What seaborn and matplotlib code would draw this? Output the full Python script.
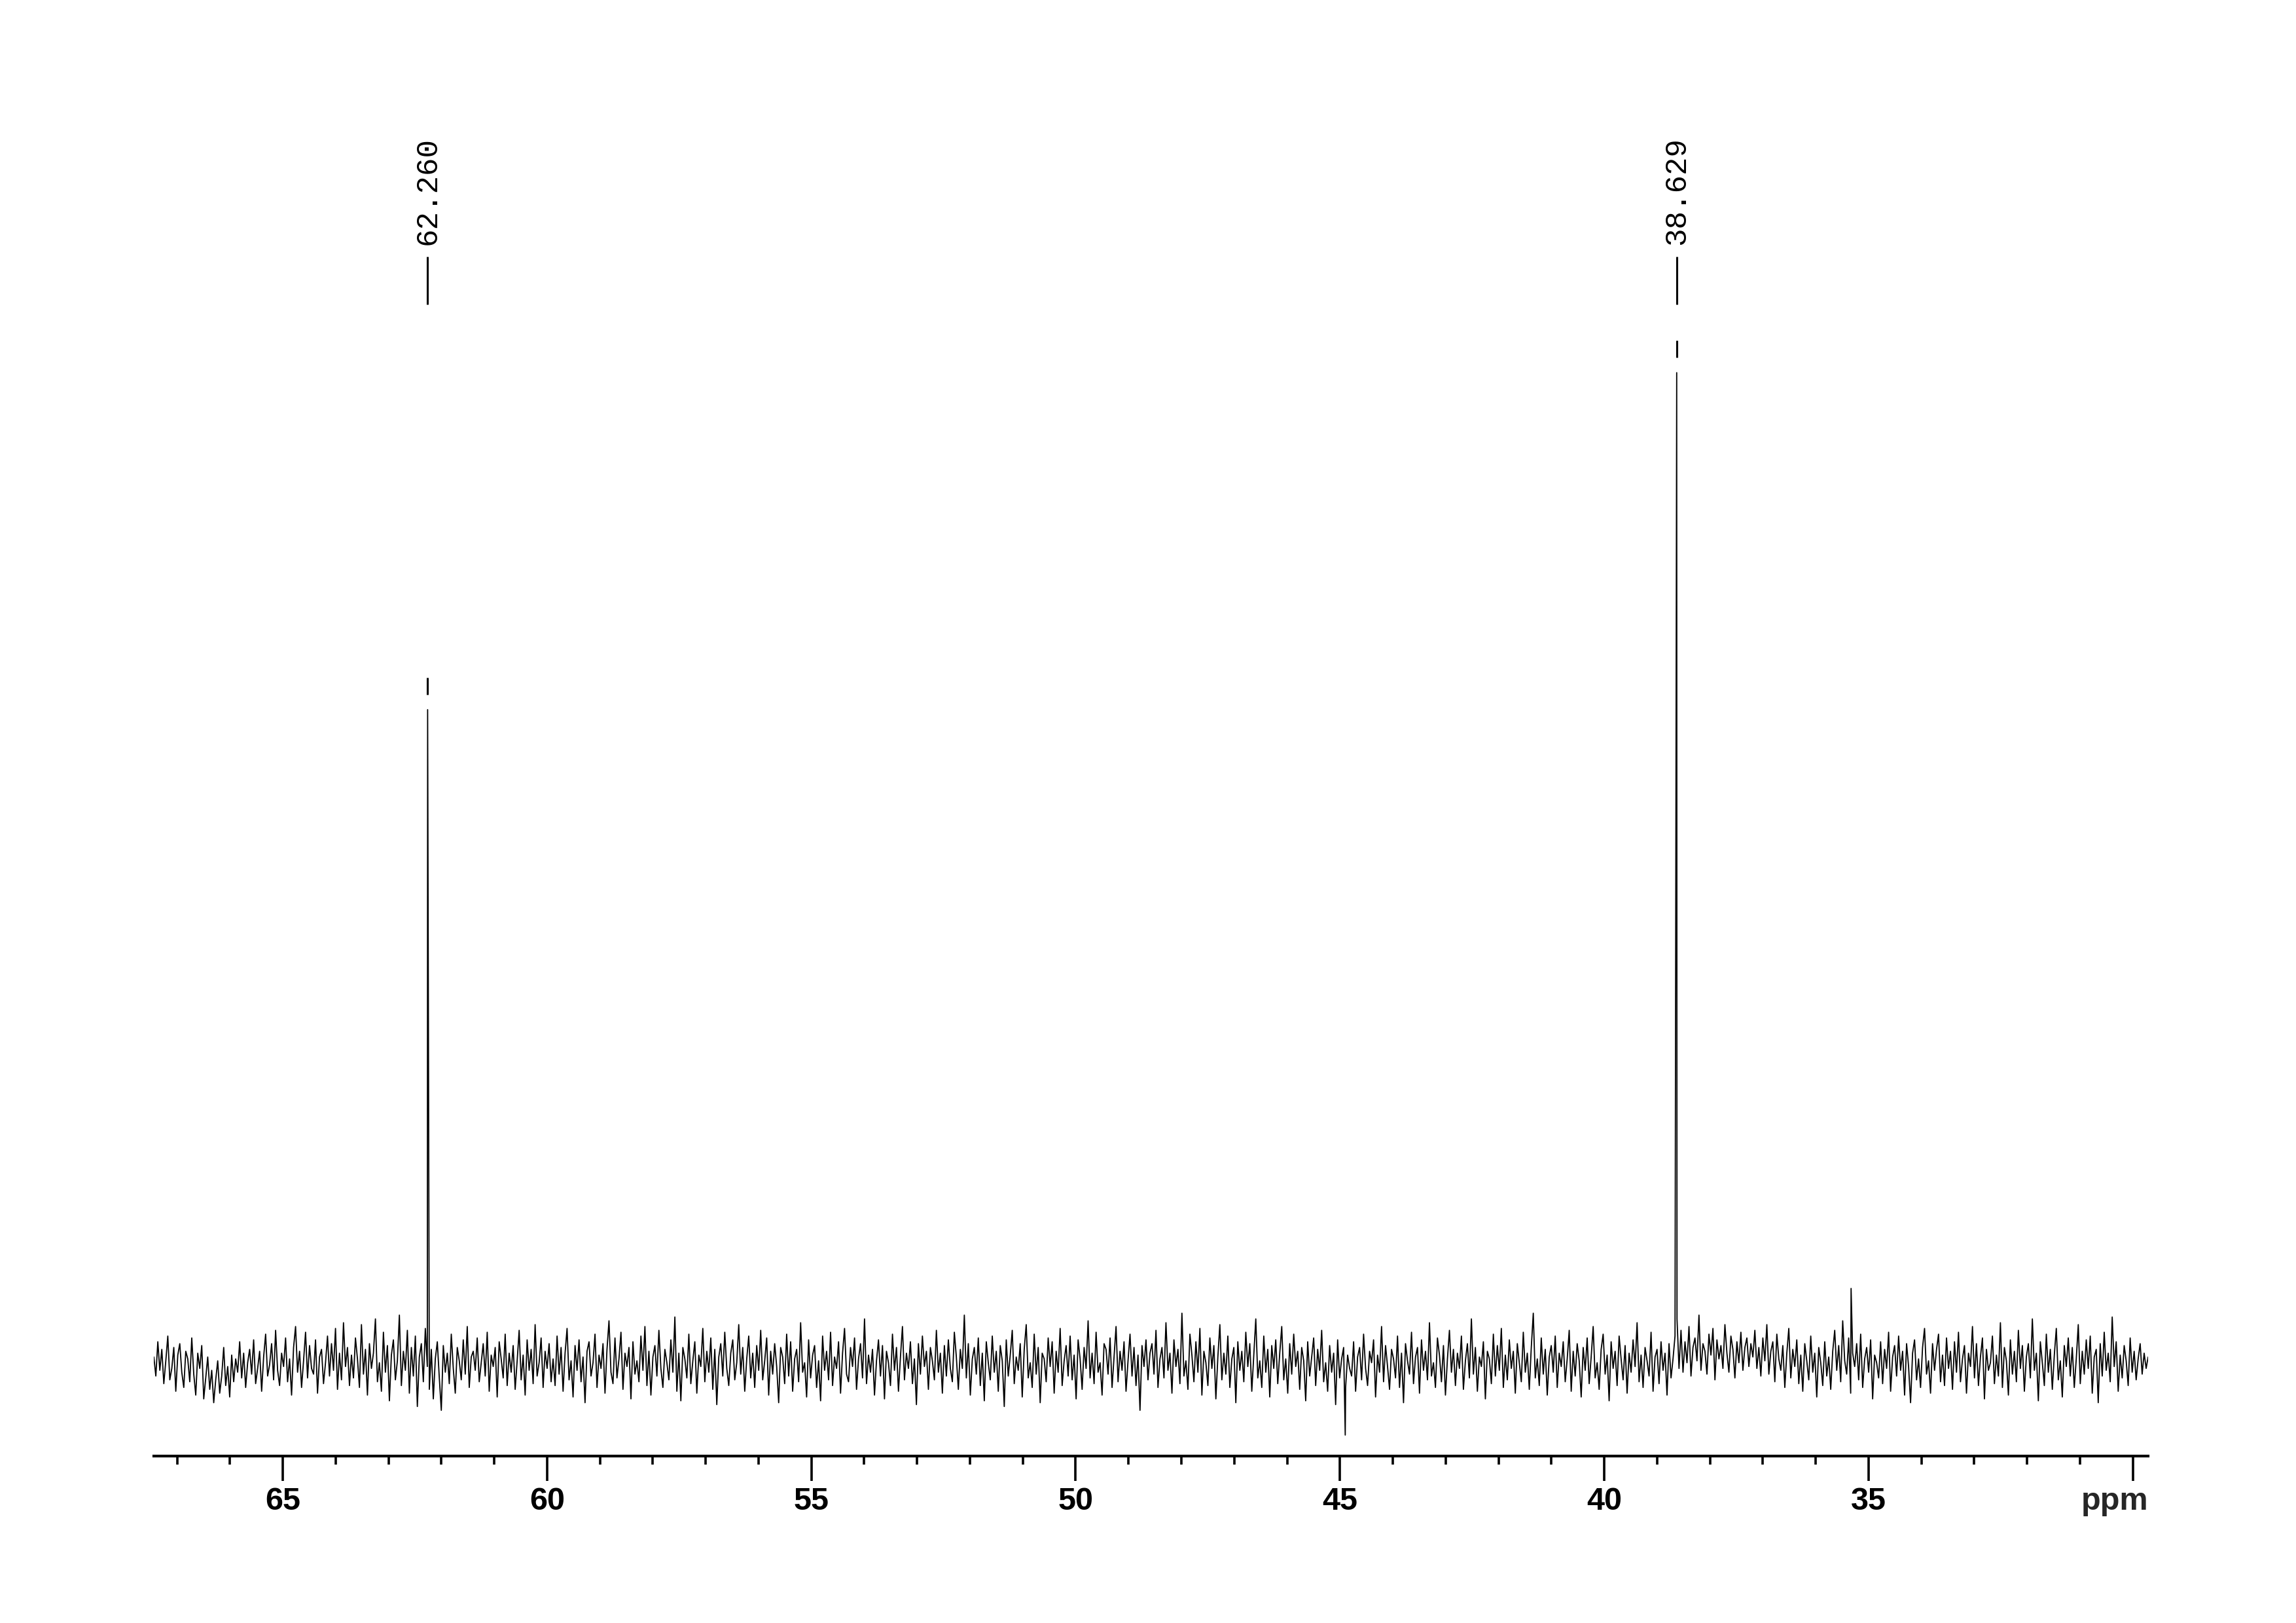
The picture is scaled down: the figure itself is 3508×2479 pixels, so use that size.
import numpy as np
import pandas as pd
import matplotlib
matplotlib.use("Agg")
import matplotlib.pyplot as plt
from matplotlib.ticker import MultipleLocator
import seaborn as sns

# spectrum window (ppm, high field on the right)
ppm_left = 67.44
ppm_right = 29.71

# picked peaks (height in arbitrary units, baseline = 0)
peak_ppm = [62.260, 38.629]
peak_height = [344, 521]
peak_labels = ["62.260", "38.629"]

# odd single spikes in the baseline
spike_ppm = [44.90, 35.33]
spike_height = [-37, 40]

major_ticks = [65, 60, 55, 50, 45, 40, 35, 30]
tick_labels = ["65", "60", "55", "50", "45", "40", "35", ""]

noise_a = [4, -6, 12, -3, 8, -10, 2, 15, -8, -2, 9, -14, 5, 11, -4, -12, 7, 3, -9, 14,
           -5, -16, 6, -2, 10, -18, -7, 4, -13, -3, -20, -8, 2, -15, -6, 9, -11, -1, -17, 5,
           -9, 3, -4, 12, -7, 6, -12, 1, 8, -5, 13, -10, -2, 7, -14, 4, 16, -6, 0, 11,
           -8, 18, -3, -11, 6, -1, 14, -9, 3, -16, 9, 20, -4, 7, -12, 2, 17, -7, 10, -2,
           -5, 13, -15, 4, 8, -10, 1, 15, -6, 11, -3, 19, -13, 6, -8, 22, -1, 9, -11, 5]
noise_b = [-7, 14, 3, -12, 21, -5, 8, -16, 11, -2, 6, 24, -9, 1, -14, 17, -4, 10, -19, 5,
           13, -8, 2, 26, -11, 7, -3, 18, -15, 9, -6, 15, -22, 4, 11, -9, 19, -1, -13, 8,
           -18, 3, 12, -7, -24, 10, -4, 6, -10, 16, -2, -15, 9, 2, -8, 13, -5, 20, -12, 4,
           7, -3, 14, -9, 1, 11, -6, 17, -14, 5, -1, 9, -17, 12, 3, -7, 16, -11, 6, -4,
           10, -13, 2, 18, -8, 5, -16, 13, -3, 8, -10, 21, -6, 1, 14, -12, 7, -2, 11, -9]
noise_c = [3, -11, 15, -5, 9, -14, 6, 19, -8, 2, -17, 10, -3, 13, -9, 4, -20, 7, 12, -6,
           1, 16, -12, 5, -2, 11, -15, 8, 23, -4, -10, 14, -7, 3, 17, -13, 6, -1, 9, -18,
           12, -5, 2, -9, 15, -3, 20, -11, 7, -16, 4, 10, -6, 18, -2, -12, 8, 1, -8, 13,
           -4, 25, -14, 6, -19, 9, 3, -7, 16, -10, 2, 12, -15, 5, -1, 19, -9, 7, -4, 14,
           -13, 8, -21, 4, 11, -6, 17, -2, -11, 6, 13, -8, 1, 21, -5, 9, -14, 3, 15, -7]
noise_d = [6, -12, 10, -3, 18, -8, 2, 14, -16, 7, -5, 11, -1, -20, 9, 4, -10, 16, -6, 12,
           -14, 3, 8, -9, 22, -4, 1, -17, 13, -7, 5, 10, -12, 2, -19, 15, -3, 7, -8, 17,
           -11, 4, -2, 12, -15, 6, 19, -5, -9, 9, -1, 14, -13, 3, 11, -7, 24, -10, 5, -4,
           8, -16, 2, 13, -6, 10, -18, 7, 1, -11, 16, -3, 9, -14, 4, 20, -8, 6, -2, 12,
           -10, 3, -21, 11, -5, 15, -1, 7, -13, 9, 2, -8, 18, -4, 6, -15, 10, -6, 13, -2]
noise_e = [-9, 17, 4, -13, 8, -2, 26, -7, 11, -16, 3, 9, -5, 14, -11, 6, -19, 12, 1, -8,
           15, -4, 7, -14, 10, 2, -22, 13, -6, 5, 18, -10, 4, -3, 11, -17, 8, 21, -7, 1,
           -12, 16, -5, 9, -20, 6, 3, -9, 14, -1, 12, -15, 7, -4, 19, -11, 2, 10, -6, 15,
           -8, 5, -18, 13, 3, -13, 9, -2, 23, -7, 6, -10, 17, -4, 1, -16, 11, 8, -5, 14,
           -12, 4, 20, -9, 7, -3, 12, -14, 2, 16, -6, 9, -11, 5, -24, 10, -1, 13, -8, 6]
noise_f = [11, -5, 18, -12, 3, 9, -7, 22, -3, 6, -15, 13, -1, 8, -10, 27, -6, 2, -13, 16,
           5, -9, 12, -4, 19, -16, 7, 1, -11, 14, -2, 10, -18, 4, 21, -8, 6, -5, 15, -12,
           3, 9, -20, 12, -3, 7, -9, 17, -1, 11, -14, 5, 24, -7, 2, -12, 15, -4, 8, -17,
           10, -2, 13, -10, 6, 20, -8, 3, -15, 11, -5, 16, -1, 7, -13, 9, 2, -19, 12, -6,
           4, 14, -11, 8, -3, 18, -9, 1, -14, 10, -4, 6, -21, 13, -7, 3, 9, -12, 5, -2]
noise_g = [-6, 12, -14, 4, 9, -8, 16, -2, -11, 7, 1, 13, -17, 5, -4, 20, -9, 10, -1, -13,
           8, 3, -7, 15, -12, 6, -20, 11, 2, -5, 17, -10, 4, 9, -15, 13, -3, 7, -8, 22,
           -6, 1, -12, 14, 5, -9, 10, -16, 3, 18, -4, 8, -11, 6, -2, 15, -13, 2, 11, -7,
           24, -5, 9, -14, 4, -1, 12, -18, 7, 3, -10, 16, -6, 10, -3, 19, -12, 5, -8, 13,
           -2, 7, -15, 11, 1, -9, 17, -4, 6, -13, 9, 27, -7, 3, -11, 14, -5, 8, -16, 4]
noise_h = [10, -4, 15, -12, 6, -1, 12, -9, 3, 18, -14, 7, -6, 11, 2, -17, 9, -3, 14, -10,
           4, 20, -7, 1, -13, 8, 16, -5, 5, -19, 12, -2, 7, -11, 15, 3, -8, 10, -15, 6,
           -4, 13, -1, 22, -9, 5, -12, 9, 2, -6, 17, -14, 4, 8, -10, 12, -3, 6, -16, 11,
           -7, 3, 15, 24, -2, 18, -4, 12, 1, 20, -6, 9, 14, 2, 26, -3, 11, 7, -5, 16,
           5, 19, -8, 13, 3, 10, -2, 21, 6, -4, 15, 8, -7, 12, 1, 17, -3, 9, 14, -1]
noise_i = [11, 4, 18, -2, 9, -6, 14, 2, 21, -5, 7, 12, -9, 16, 3, -3, 10, -12, 6, 19,
           -7, 8, -1, 13, -10, 5, -14, 11, 2, -8, 15, -4, 6, -17, 9, 1, -11, 12, -6, 4,
           -13, 7, 18, -3, 10, -9, 23, 2, -5, 14, -15, 6, -1, 11, -8, 16, -12, 3, 9, -4,
           13, -18, 5, 1, -7, 12, -10, 8, -2, 17, -14, 4, 10, -6, 15, -3, 7, -16, 11, -1,
           -20, 6, 13, -8, 3, -12, 9, 19, -5, 2, -15, 11, -3, 8, 16, -9, 5, -11, 14, -2]
noise_j = [7, -13, 12, -4, 17, -9, 3, 10, -15, 6, -1, 20, -7, 11, -11, 4, 14, -18, 8, -3,
           1, 15, -10, 5, -6, 22, -12, 9, 2, -16, 13, -5, 7, -9, 18, -2, 10, -14, 4, 11,
           -7, 24, -3, 6, -19, 12, 1, -11, 16, -4, 8, -13, 5, 19, -8, 2, -17, 10, -1, 14,
           -6, 9, -12, 3, 21, -10, 7, -5, 13, -2, 15, -15, 4, 8, -20, 11, -6, 17, -3, 6,
           -9, 25, -1, 12, -14, 5, -7, 10, 2, -11, 14, -4, 7, -8, 3, 11, -5, 6, -2, 4]

noise = (noise_a + noise_b + noise_c + noise_d + noise_e
         + noise_f + noise_g + noise_h + noise_i + noise_j)
noise_ppm = np.linspace(ppm_left, ppm_right, len(noise))

df = pd.DataFrame({
    "ppm": np.concatenate([noise_ppm, peak_ppm, spike_ppm]),
    "intensity": np.concatenate([noise, peak_height, spike_height]),
}).sort_values("ppm", ascending=False)

sns.set_style("ticks")
plt.rcParams["font.family"] = ["Liberation Sans", "DejaVu Sans"]

fig = plt.figure(figsize=(35.08, 24.79), dpi=100)
ax = fig.add_axes([0.0670, 0.1029, 0.8686, 0.8411])

sns.lineplot(data=df, x="ppm", y="intensity", estimator=None, sort=False,
             color="black", linewidth=1.3, ax=ax)

# Bruker style peak labels
for p, h, lab in zip(peak_ppm, peak_height, peak_labels):
    ax.vlines(p, h + 8, h + 17, color="black", linewidth=2.2)
    ax.vlines(p, 557, 582, color="black", linewidth=2.2)
    ax.text(p, 588, lab, rotation=90, ha="center", va="bottom",
            family="Liberation Mono", fontsize=33, color="black")

ax.set_xlim(ppm_left, ppm_right)
ax.set_ylim(-48, 669)

ax.set_xticks(major_ticks)
ax.set_xticklabels(tick_labels)
ax.xaxis.set_minor_locator(MultipleLocator(1))
ax.tick_params(axis="x", which="major", length=27, width=2.6, pad=7,
               labelsize=35, color="black", labelcolor="black")
ax.tick_params(axis="x", which="minor", length=9, width=2.6, color="black")
for t in ax.get_xticklabels():
    t.set_fontweight("bold")

ax.set_yticks([])
ax.set_xlabel("")
ax.set_ylabel("")
for s in ["top", "left", "right"]:
    ax.spines[s].set_visible(False)
ax.spines["bottom"].set_linewidth(3.0)
ax.spines["bottom"].set_color("black")

ax.annotate("ppm", xy=(1.0, 0.0), xycoords="axes fraction",
            xytext=(0, -34), textcoords="offset points",
            ha="right", va="top", fontsize=35, fontweight="bold")

fig.savefig("out.png", dpi=100, facecolor="white")
